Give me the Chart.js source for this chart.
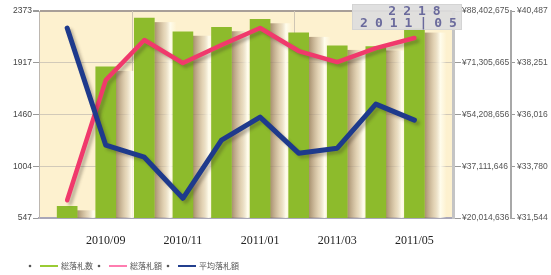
<!DOCTYPE html>
<html>
<head>
<meta charset="utf-8">
<script src="https://cdn.jsdelivr.net/npm/chart.js@4/dist/chart.umd.min.js"></script>
<style>
  html, body { margin: 0; padding: 0; background: #fff; }
  #wrap { width: 551px; height: 275px; }
</style>
</head>
<body>
<div id="wrap"><canvas id="chartCanvas" width="551" height="275"></canvas></div>
<script>
var months = ['2010/08', '2010/09', '2010/10', '2010/11', '2010/12', '2011/01', '2011/02', '2011/03', '2011/04', '2011/05'];
var bidCount = [650, 1880, 2310, 2190, 2230, 2300, 2180, 2065, 2060, 2218];
var bidTotal = [25870000, 65570000, 78810000, 71200000, 77150000, 82780000, 75170000, 71530000, 76160000, 79470000];
var bidAverage = [39752, 34690, 34171, 32396, 34906, 35901, 34344, 34560, 36464, 35772];

var countTicks = [547, 1004, 1460, 1917, 2373];
var totalTicks = [20014636, 37111646, 54208656, 71305665, 88402675];
var averageTicks = [31544, 33780, 36016, 38251, 40487];
var monthTicks = [1, 3, 5, 7, 9];
var seriesNames = ['総落札数', '総落札額', '平均落札額'];

var axisFont = { family: "'Liberation Sans', Arial, sans-serif", size: 8.5 };

function points(values) {
  return values.map(function (v, i) { return { x: i, y: v }; });
}

function yen(v) {
  return '¥' + v.toLocaleString('en-US');
}

// plot background, odd vertical grid lines and the bar shading
var plotDecor = {
  id: 'plotDecor',
  beforeDraw: function (chart) {
    var ctx = chart.ctx, area = chart.chartArea;
    ctx.save();
    ctx.fillStyle = '#fdf1cf';
    ctx.fillRect(area.left, area.top, area.right - area.left, area.bottom - area.top);
    ctx.restore();
  },
  beforeDatasetsDraw: function (chart) {
    var ctx = chart.ctx, area = chart.chartArea, xs = chart.scales.x;
    ctx.save();
    ctx.strokeStyle = '#cfc6b4';
    ctx.lineWidth = 1;
    [1.69, 5.87].forEach(function (v) {
      var px = Math.round(xs.getPixelForValue(v)) + 0.5;
      ctx.beginPath();
      ctx.moveTo(px, area.top);
      ctx.lineTo(px, area.bottom);
      ctx.stroke();
    });
    ctx.restore();
  },
  beforeDatasetDraw: function (chart, args) {
    var ctx = chart.ctx, area = chart.chartArea;
    if (args.index === 0) {
      ctx.save();
      ctx.beginPath();
      ctx.rect(area.left, area.top, area.right - area.left, area.bottom - area.top);
      ctx.clip();
      args.meta.data.forEach(function (bar) {
        var right = bar.x + bar.width / 2;
        var top = bar.y + 4;
        var g = ctx.createLinearGradient(right, 0, right + 22, 0);
        g.addColorStop(0, 'rgba(145,118,85,0.8)');
        g.addColorStop(0.45, 'rgba(215,198,170,0.65)');
        g.addColorStop(0.72, 'rgba(255,253,238,0.95)');
        g.addColorStop(1, 'rgba(255,253,238,0)');
        ctx.fillStyle = g;
        ctx.fillRect(right, top, 22, area.bottom - top);
      });
      ctx.restore();
    } else {
      ctx.save();
      ctx.shadowColor = 'rgba(60,50,40,0.3)';
      ctx.shadowOffsetX = 3;
      ctx.shadowOffsetY = 3;
      ctx.shadowBlur = 3;
    }
  },
  afterDatasetDraw: function (chart, args) {
    if (args.index !== 0) chart.ctx.restore();
  }
};

// legend row and the value box for the last month
var extras = {
  id: 'extras',
  afterDraw: function (chart) {
    var ctx = chart.ctx;
    ctx.save();
    var x = 30, y = 266;
    ctx.font = "8px 'Noto Sans CJK JP', sans-serif";
    ctx.textBaseline = 'middle';
    chart.data.datasets.forEach(function (ds) {
      ctx.fillStyle = '#555';
      ctx.beginPath();
      ctx.arc(x, y, 1.3, 0, Math.PI * 2);
      ctx.fill();
      ctx.strokeStyle = ds.legendColor;
      ctx.lineWidth = 2;
      ctx.beginPath();
      ctx.moveTo(x + 10, y);
      ctx.lineTo(x + 28, y);
      ctx.stroke();
      ctx.fillStyle = '#555';
      ctx.fillText(ds.label, x + 31, y);
      x += 31 + ctx.measureText(ds.label).width + 6;
    });

    var area = chart.chartArea;
    var bx = area.right - 101, by = 4, bw = 110, bh = 26;
    ctx.fillStyle = 'rgba(222,222,222,0.93)';
    ctx.fillRect(bx, by, bw, bh);
    ctx.strokeStyle = '#d4d4d4';
    ctx.lineWidth = 1;
    ctx.strokeRect(bx + 0.5, by + 0.5, bw - 1, bh - 1);
    var last = bidCount.length - 1;
    ctx.fillStyle = '#6a6a9c';
    ctx.font = "bold 13px 'DejaVu Sans Mono', monospace";
    ctx.letterSpacing = '7px';
    ctx.textAlign = 'center';
    ctx.fillText(String(bidCount[last]), bx + bw / 2 + 11, by + 8);
    ctx.fillText(months[last].replace('/', '|'), bx + bw / 2 + 5, by + 20);
    ctx.restore();
  }
};

function drawChart() {
  new Chart(document.getElementById('chartCanvas').getContext('2d'), {
    data: {
      datasets: [{
        type: 'bar',
        label: seriesNames[0],
        data: points(bidCount),
        yAxisID: 'y',
        backgroundColor: '#8dbb2c',
        legendColor: '#9acb34',
        barThickness: 20,
        order: 3
      }, {
        type: 'line',
        label: seriesNames[1],
        data: points(bidTotal),
        yAxisID: 'y1',
        borderColor: '#f0396c',
        legendColor: '#ff7db0',
        borderWidth: 4.5,
        pointRadius: 0,
        borderCapStyle: 'round',
        borderJoinStyle: 'round',
        order: 2
      }, {
        type: 'line',
        label: seriesNames[2],
        data: points(bidAverage),
        yAxisID: 'y2',
        borderColor: '#1e3a8c',
        legendColor: '#233f8e',
        borderWidth: 5,
        pointRadius: 0,
        borderCapStyle: 'round',
        borderJoinStyle: 'round',
        order: 1
      }]
    },
    options: {
      responsive: false,
      animation: false,
      layout: { padding: { top: 11, left: 0, right: 0, bottom: 0 } },
      plugins: { legend: { display: false }, tooltip: { enabled: false } },
      scales: {
        x: {
          type: 'linear',
          offset: false,
          min: -0.73,
          max: 10.0,
          grid: { display: false, offset: false },
          border: { color: '#a9a7b8', width: 2 },
          afterBuildTicks: function (s) { s.ticks = monthTicks.map(function (v) { return { value: v }; }); },
          afterFit: function (s) { s.height = 57; },
          ticks: {
            padding: 8,
            maxRotation: 0,
            color: '#222',
            font: { family: "'Liberation Serif', serif", size: 12 },
            callback: function (v) { return months[v]; }
          }
        },
        y: {
          position: 'left',
          min: countTicks[0],
          max: countTicks[countTicks.length - 1],
          afterBuildTicks: function (s) { s.ticks = countTicks.map(function (v) { return { value: v }; }); },
          afterFit: function (s) { s.width = 39; },
          border: { color: '#bdb7b0', width: 1 },
          grid: {
            color: function (c) { return c.tick && c.tick.value === countTicks[countTicks.length - 1] ? '#a89f98' : '#d2cab9'; },
            lineWidth: function (c) { return c.tick && c.tick.value === countTicks[countTicks.length - 1] ? 2 : 1; },
            tickColor: '#999',
            tickLength: 6
          },
          ticks: { padding: 1, color: '#444', font: axisFont, callback: function (v) { return String(v); } }
        },
        y1: {
          position: 'right',
          min: totalTicks[0],
          max: totalTicks[totalTicks.length - 1],
          afterBuildTicks: function (s) { s.ticks = totalTicks.map(function (v) { return { value: v }; }); },
          afterFit: function (s) { s.width = 58; },
          border: { color: '#c4c4c4', width: 3 },
          grid: { drawOnChartArea: false, tickColor: '#999', tickLength: 8 },
          ticks: { padding: 1, color: '#555', font: axisFont, callback: function (v) { return yen(v); } }
        },
        y2: {
          position: 'right',
          min: averageTicks[0],
          max: averageTicks[averageTicks.length - 1],
          afterBuildTicks: function (s) { s.ticks = averageTicks.map(function (v) { return { value: v }; }); },
          afterFit: function (s) { s.width = 40; },
          border: { color: '#a8a8a8', width: 2 },
          grid: { drawOnChartArea: false, tickColor: '#999', tickLength: 4 },
          ticks: { padding: 2, color: '#555', font: axisFont, callback: function (v) { return yen(v); } }
        }
      }
    },
    plugins: [plotDecor, extras]
  });
}

document.addEventListener('DOMContentLoaded', function () {
  drawChart();
});
</script>
</body>
</html>
